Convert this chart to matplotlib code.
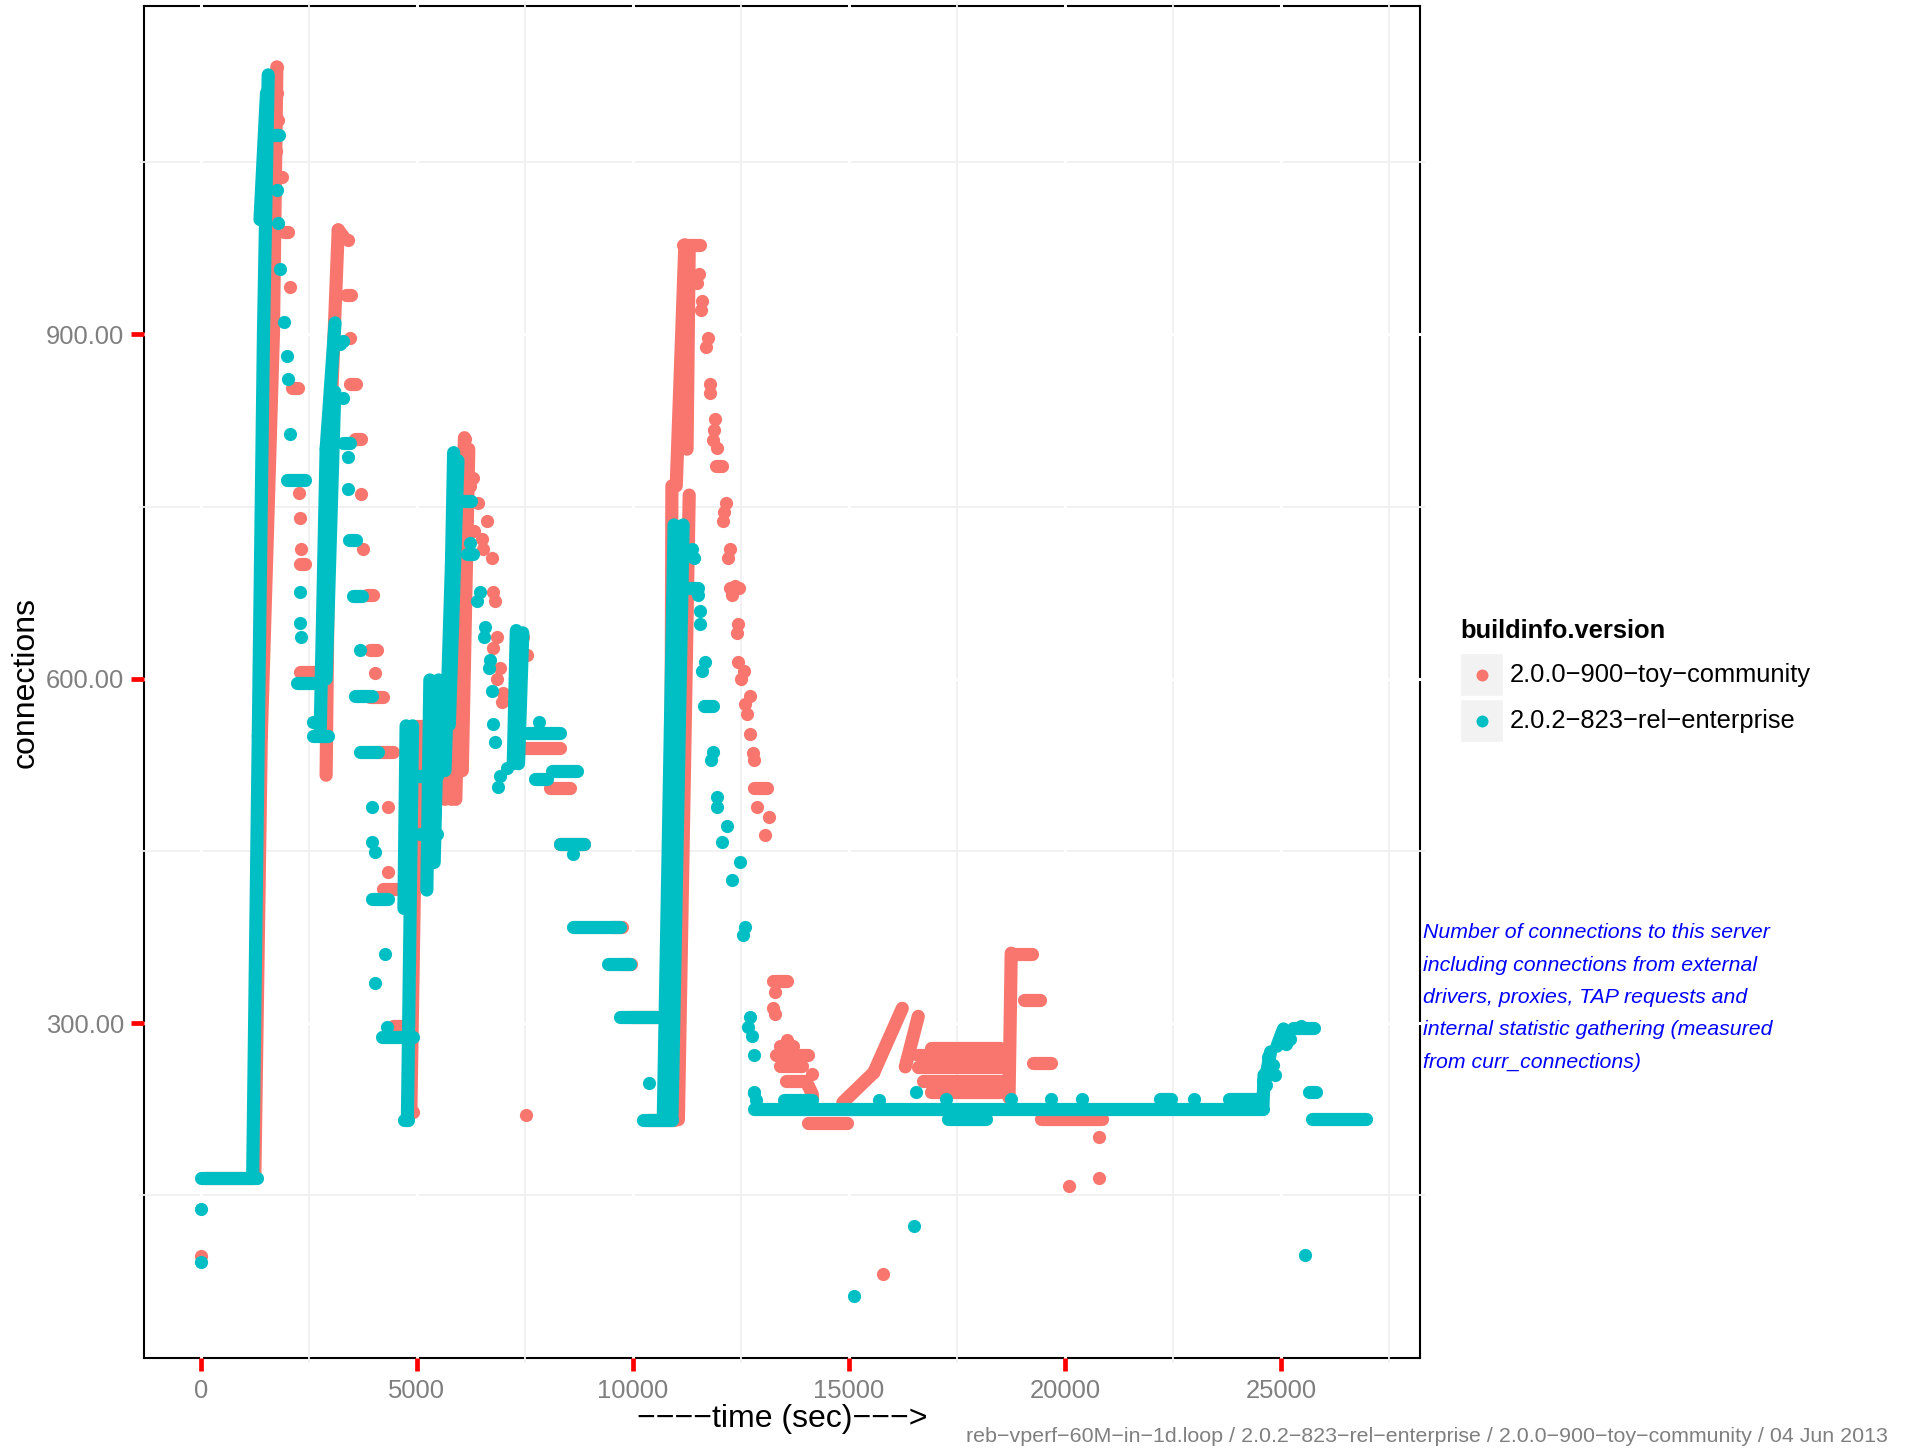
import matplotlib
matplotlib.use("Agg")
import matplotlib.pyplot as plt
from matplotlib.patches import Rectangle

plt.rcParams["font.family"] = ["Liberation Sans", "DejaVu Sans"]

W, H = 1908, 1449
TOY_COLOR = "#F8766D"
ENT_COLOR = "#00BFC4"
DOT = 9.5  # point diameter (pt)

series_names = ["2.0.0−900−toy−community", "2.0.2−823−rel−enterprise"]

x_ticks = [0, 5000, 10000, 15000, 20000, 25000]
y_ticks = [300, 600, 900]
y_tick_labels = ["300.00", "600.00", "900.00"]
x_minor = [2500, 7500, 12500, 17500, 22500, 27500]
y_minor = [150, 450, 750, 1050]

# ---------------------------------------------------------------------------
# curr_connections samples.  Runs of consecutive samples are stored as
# (t0, c0, t1, c1); stray samples as (t, c).
# ---------------------------------------------------------------------------
toy_runs = [
    (100, 165, 1200, 165),
    (1250, 165, 1400, 550), (1400, 550, 1680, 900), (1680, 900, 1760, 1133),
    (1780, 1037, 1880, 1037), (1930, 989, 2010, 989),
    (2100, 853, 2250, 853), (2300, 700, 2420, 700), (2300, 606, 2760, 606),
    (2900, 516, 2980, 800), (2980, 800, 3180, 991), (3180, 991, 3300, 985),
    (3350, 934, 3470, 934), (3450, 857, 3600, 857), (3560, 809, 3700, 809),
    (3850, 673, 3990, 673), (3920, 625, 4070, 625), (3917, 584, 4225, 584),
    (4071, 536, 4456, 536), (4225, 417, 4688, 417), (4456, 298, 4688, 298),
    (4860, 223, 5000, 555), (4920, 559, 5230, 559),
    (5650, 495, 5700, 600), (5800, 495, 5900, 600),
    (5900, 495, 6100, 810), (6050, 520, 6200, 800),
    (6150, 775, 6300, 775),
    (7467, 540, 8315, 540), (8083, 505, 8546, 505), (8315, 456, 8855, 456),
    (9500, 384, 9750, 384), (9750, 352, 9950, 352), (9950, 305, 10560, 305),
    (10350, 216, 10950, 216),
    (10850, 216, 10900, 768), (11050, 216, 11300, 760),
    (11000, 768, 11200, 978), (11250, 800, 11300, 975), (11160, 978, 11560, 978),
    (11930, 785, 12070, 785), (12250, 679, 12450, 679),
    (12800, 505, 13100, 505), (13240, 337, 13570, 337),
    (13400, 280, 13700, 280), (13300, 272, 14050, 272), (13400, 263, 13900, 263),
    (13550, 250, 14000, 250), (14050, 246, 14150, 238),
    (14060, 213, 14960, 213),
    (14855, 231, 15570, 257), (15570, 257, 16230, 313), (16300, 262, 16600, 306),
    (16900, 278, 18500, 278), (16600, 272, 18600, 272), (16600, 262, 18700, 262),
    (16700, 250, 18650, 250), (16900, 240, 18500, 240),
    (18700, 235, 18750, 361), (18760, 360, 19230, 360),
    (19050, 320, 19410, 320), (19250, 265, 19670, 265),
    (19450, 217, 20850, 217),
]

toy_points = [
    (0, 97),
    (1757, 1133), (1770, 1110), (1780, 1087), (1750, 1060),
    (2065, 941), (2273, 762), (2296, 740), (2319, 713),
    (3415, 982), (3454, 897), (3708, 761), (3762, 713), (4032, 605),
    (4341, 488), (4341, 432), (4900, 223),
    (6116, 809), (6234, 768), (6424, 753), (6330, 729), (6618, 737),
    (6500, 722), (6540, 713), (6733, 705), (6771, 676), (6810, 668),
    (6849, 636), (6771, 627), (6926, 609), (6850, 600), (7003, 588),
    (6960, 580), (7300, 610), (7350, 595), (7465, 636), (7540, 621),
    (7525, 220),
    (11520, 953), (11480, 945), (11595, 929), (11570, 921), (11725, 897),
    (11690, 889), (11790, 857), (11770, 849), (11900, 826), (11880, 817),
    (11860, 808), (11940, 801), (12157, 753), (12100, 745), (12080, 737),
    (12235, 713), (12200, 705), (12365, 681), (12300, 673), (12420, 648),
    (12400, 640), (12420, 615), (12560, 607), (12500, 600), (12710, 585),
    (12600, 578), (12640, 569), (12710, 552), (12775, 535), (12790, 529),
    (12880, 488), (13140, 480), (13060, 464), (13290, 327), (13250, 313),
    (13290, 308), (13570, 285), (14140, 256), (14140, 236),
    (15790, 82), (20080, 158), (20770, 165), (20770, 201),
]

ent_runs = [
    (0, 165, 1290, 165),
    (1200, 165, 1330, 550), (1330, 550, 1450, 900), (1450, 900, 1560, 1126),
    (1370, 1000, 1520, 1110),
    (1650, 1074, 1800, 1074), (1988, 773, 2410, 773), (2220, 596, 2683, 596),
    (2760, 550, 2900, 800), (2900, 800, 3106, 910), (2900, 600, 3100, 850),
    (2590, 550, 2950, 550),
    (3300, 805, 3450, 805), (3420, 721, 3580, 721), (3530, 672, 3720, 672),
    (3570, 585, 3955, 585), (3685, 536, 4100, 536), (3955, 408, 4341, 408),
    (4187, 288, 4919, 288),
    (4700, 216, 4800, 216), (4780, 216, 4900, 559), (4700, 400, 4750, 559),
    (4950, 515, 5460, 515), (5070, 465, 5460, 465),
    (5230, 416, 5300, 599), (5400, 440, 5500, 599),
    (5650, 520, 5800, 700), (5800, 700, 5850, 797), (5750, 560, 5950, 790),
    (5900, 755, 6250, 755), (6150, 709, 6300, 709),
    (7230, 526, 7300, 642), (7350, 526, 7450, 640),
    (7544, 553, 8315, 553), (7736, 513, 8007, 513), (8122, 520, 8700, 520),
    (8315, 456, 8855, 456), (8623, 384, 9700, 384), (9430, 352, 9940, 352),
    (9710, 305, 10556, 305),
    (10240, 216, 10910, 216),
    (10700, 216, 10950, 734), (10900, 216, 11160, 734),
    (11300, 679, 11500, 679), (11650, 576, 11850, 576),
    (12800, 225, 24575, 225),
    (13500, 233, 14130, 233), (22200, 234, 22450, 234), (23800, 234, 24500, 234),
    (17290, 217, 18170, 217),
    (24575, 228, 24600, 255), (24650, 255, 24750, 275), (24900, 280, 25050, 295),
    (25280, 296, 25750, 296), (25650, 240, 25810, 240), (25710, 217, 26950, 217),
]

ent_points = [
    (0, 92), (0, 138),
    (1757, 1026), (1780, 997), (1833, 957), (1926, 911), (1988, 881),
    (2025, 861), (2065, 813), (2296, 676), (2296, 649), (2319, 636),
    (2600, 562), (3222, 892),
    (3299, 894), (3299, 845), (3414, 793), (3414, 765), (3685, 625),
    (3955, 488), (3955, 458), (4032, 449), (4264, 360), (4032, 335),
    (4300, 297), (5460, 593),
    (6234, 718), (6465, 676), (6400, 668), (6580, 645), (6550, 636),
    (6696, 616), (6660, 609), (6733, 589), (6771, 561), (6810, 545),
    (6926, 515), (6880, 506), (7081, 522), (7234, 528), (7830, 562),
    (8623, 447), (10370, 248),
    (11360, 713), (11400, 705), (11500, 673), (11555, 659), (11540, 648),
    (11670, 615), (11600, 607), (11860, 536), (11800, 529), (11940, 497),
    (11940, 488), (12170, 472), (12050, 458), (12480, 440), (12290, 425),
    (12600, 384), (12550, 377), (12710, 305), (12650, 297), (12750, 289),
    (12790, 272), (12790, 239), (12800, 240), (12850, 233),
    (15700, 233), (16550, 240), (17230, 234), (18740, 234), (19670, 234),
    (20390, 234), (22970, 234),
    (24575, 250), (24650, 246), (24700, 255), (24680, 271), (24800, 264),
    (24850, 255), (24990, 291), (25100, 282), (25200, 286), (25450, 298),
    (25550, 98), (16510, 123), (15120, 62),
]


def fig_xy(x, y):
    return x / W, 1 - y / H


def draw_series(ax, runs, points, color, z):
    for t0, c0, t1, c1 in runs:
        ax.plot([t0, t1], [c0, c1], color=color, lw=DOT,
                solid_capstyle="round", zorder=z)
    ts = [p[0] for p in points]
    cs = [p[1] for p in points]
    ax.scatter(ts, cs, s=DOT ** 2, color=color, linewidths=0, zorder=z)


fig = plt.figure(figsize=(W / 100, H / 100), dpi=100)
left, right, top, bottom = 143.6, 1420, 6, 1358
ax = fig.add_axes([left / W, 1 - bottom / H, (right - left) / W, (bottom - top) / H])

ax.set_xlim(-1323, 28208)
ax.set_ylim(8.4, 1186)

# border sits underneath the grid, so grid lines nick it where they cross
for sp in ax.spines.values():
    sp.set_linewidth(1.5)
    sp.set_color("black")
    sp.set_zorder(0.5)

ext = dict(clip_on=False)
for yv in y_minor:
    ax.axhline(yv, xmin=-0.003, xmax=1.003, color="#F0F0F0", lw=1.3,
               zorder=0.7, **ext)
for xv in x_minor:
    ax.axvline(xv, ymin=-0.003, ymax=1.003, color="#F0F0F0", lw=1.3,
               zorder=0.7, **ext)
for yv in y_ticks:
    ax.axhline(yv, xmin=-0.004, xmax=1.004, color="white", lw=2.2,
               zorder=0.8, **ext)
for xv in x_ticks:
    ax.axvline(xv, ymin=-0.004, ymax=1.004, color="white", lw=2.2,
               zorder=0.8, **ext)

draw_series(ax, toy_runs, toy_points, TOY_COLOR, 3)
draw_series(ax, ent_runs, ent_points, ENT_COLOR, 4)

ax.set_xticks(x_ticks)
ax.set_xticklabels([str(v) for v in x_ticks])
ax.set_yticks(y_ticks)
ax.set_yticklabels(y_tick_labels)
ax.tick_params(axis="both", colors="red", length=9.5, width=3.4,
               labelcolor="#7F7F7F", labelsize=18.4)
ax.tick_params(axis="y", pad=4.5)
ax.tick_params(axis="x", pad=5.5)

ax.set_xlabel("−−−−time (sec)−−−>", fontsize=23, labelpad=1)
ax.set_ylabel("connections", fontsize=23, labelpad=4)

# legend
fig.text(*fig_xy(1460, 631), "buildinfo.version", fontsize=18.4,
         fontweight="bold", va="center", ha="left")
for i, (name, col) in enumerate(zip(series_names, [TOY_COLOR, ENT_COLOR])):
    ky = 653 + i * 46
    fig.patches.append(Rectangle(fig_xy(1460, ky + 43), 43 / W, 43 / H,
                                 transform=fig.transFigure,
                                 facecolor="#F2F2F2", edgecolor="white", lw=1))
    fig.lines.append(plt.Line2D([1481.7 / W], [1 - (ky + 21.5) / H],
                                transform=fig.transFigure, marker="o",
                                markersize=8.6, color=col, markeredgewidth=0))
    fig.text(*fig_xy(1510, ky + 22), name, fontsize=18.4, va="center", ha="left")

note_lines = [
    "Number of connections to this server",
    "including connections from external",
    "drivers, proxies, TAP requests and",
    "internal statistic gathering (measured",
    "from curr_connections)",
]
for i, line in enumerate(note_lines):
    fig.text(*fig_xy(1422.7, 933 + i * 32.3), line, fontsize=15.3,
             style="italic", color="#0000FF", va="center", ha="left")

fig.text(*fig_xy(1888, 1436),
         "reb−vperf−60M−in−1d.loop / 2.0.2−823−rel−enterprise / "
         "2.0.0−900−toy−community / 04 Jun 2013",
         fontsize=15.4, color="#7F7F7F", va="center", ha="right")

fig.savefig("out.png", dpi=100)
